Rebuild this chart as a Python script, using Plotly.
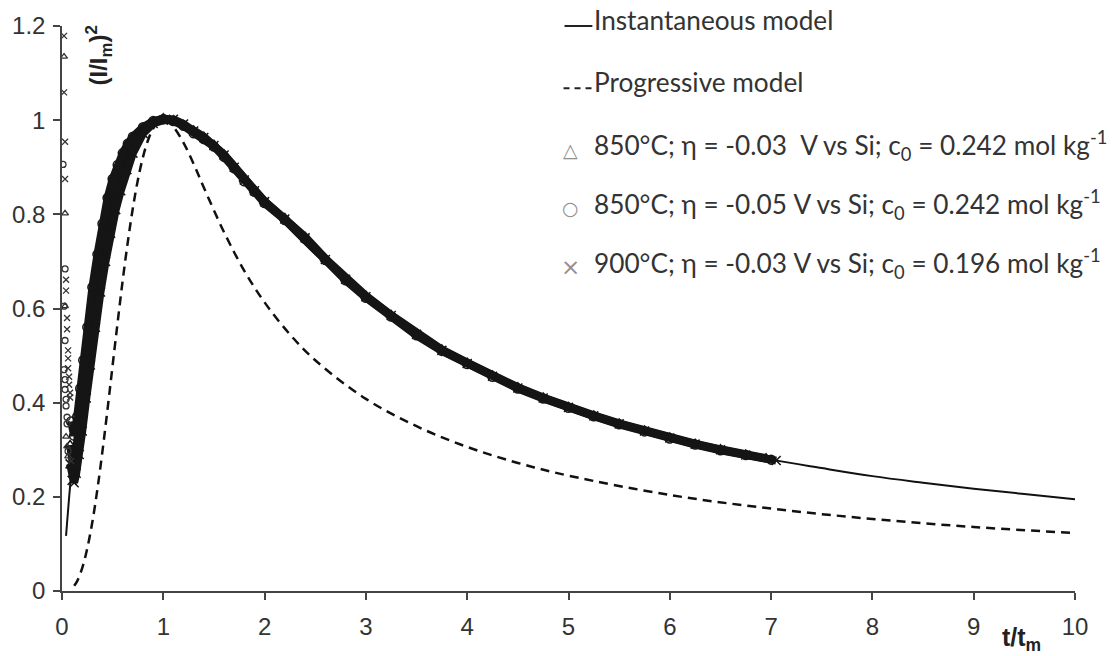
import plotly.graph_objects as go

# ---------------- data ----------------
x_ticks = [0, 1, 2, 3, 4, 5, 6, 7, 8, 9, 10]
y_ticks = [0, 0.2, 0.4, 0.6, 0.8, 1.0, 1.2]
y_tick_text = ["0", "0.2", "0.4", "0.6", "0.8", "1", "1.2"]

# Instantaneous nucleation model
t_inst = [0.04, 0.05, 0.07, 0.1, 0.15, 0.2, 0.3, 0.4, 0.5, 0.6, 0.7, 0.8, 0.9, 1.0,
          1.2, 1.4, 1.6, 1.8, 2.0, 2.5, 3.0, 3.5, 4.0, 4.5, 5.0, 5.5, 6.0, 6.5, 7.0,
          7.5, 8.0, 8.5, 9.0, 9.5, 10.0]
y_inst = [0.117, 0.145, 0.198, 0.272, 0.384, 0.483, 0.642, 0.762, 0.850, 0.913, 0.955,
          0.982, 0.996, 1.000, 0.987, 0.956, 0.916, 0.871, 0.825, 0.716, 0.622, 0.545,
          0.482, 0.431, 0.389, 0.355, 0.325, 0.301, 0.279, 0.261, 0.244, 0.230, 0.217,
          0.206, 0.195]

# Progressive nucleation model
t_prog = [0.12, 0.15, 0.2, 0.25, 0.3, 0.35, 0.4, 0.45, 0.5, 0.55, 0.6, 0.65, 0.7, 0.75,
          0.8, 0.85, 0.9, 0.95, 1.0, 1.05, 1.1, 1.2, 1.3, 1.4, 1.6, 1.8, 2.0, 2.25, 2.5,
          3.0, 3.5, 4.0, 4.5, 5.0, 6.0, 7.0, 8.0, 9.0, 10.0]
y_prog = [0.011, 0.021, 0.049, 0.091, 0.147, 0.217, 0.298, 0.387, 0.480, 0.572, 0.661,
          0.742, 0.814, 0.874, 0.922, 0.958, 0.982, 0.996, 1.000, 0.996, 0.986, 0.952,
          0.907, 0.857, 0.762, 0.680, 0.613, 0.545, 0.490, 0.408, 0.350, 0.306, 0.272,
          0.245, 0.204, 0.175, 0.153, 0.136, 0.123]

# 850 °C, eta = -0.03 V, c0 = 0.242 (triangles)
tA_early = [0.02, 0.03, 0.03, 0.04, 0.05, 0.06]
yA_early = [1.135, 0.802, 0.605, 0.328, 0.307, 0.286]
tA = [0.08, 0.10, 0.12, 0.15, 0.18, 0.21, 0.25, 0.30, 0.35, 0.40, 0.45, 0.50, 0.55, 0.60,
      0.65, 0.70, 0.80, 0.90, 1.00, 1.10, 1.20, 1.30, 1.40, 1.50, 1.60, 1.70, 1.80, 1.90,
      2.00, 2.20, 2.40, 2.60, 2.80, 3.00, 3.25, 3.50, 3.75, 4.00, 4.25, 4.50, 4.75, 5.00,
      5.25, 5.50, 5.75, 6.00, 6.25, 6.50, 6.75, 6.95]
yA = [0.31, 0.27, 0.25, 0.30, 0.37, 0.43, 0.50, 0.585, 0.655, 0.72, 0.785, 0.84, 0.875,
      0.905, 0.935, 0.952, 0.98, 0.997, 1.004, 1.0, 0.99, 0.978, 0.965, 0.948, 0.927,
      0.902, 0.875, 0.852, 0.828, 0.792, 0.752, 0.706, 0.664, 0.627, 0.586, 0.547, 0.513,
      0.485, 0.458, 0.433, 0.411, 0.391, 0.373, 0.356, 0.341, 0.326, 0.313, 0.301, 0.29,
      0.282]

# 850 °C, eta = -0.05 V, c0 = 0.242 (circles)
tB_early = [0.01, 0.03, 0.02, 0.03, 0.02, 0.03, 0.03, 0.04, 0.04, 0.05, 0.05, 0.06]
yB_early = [0.906, 0.684, 0.605, 0.532, 0.470, 0.449, 0.428, 0.407, 0.393, 0.369, 0.355,
            0.297]
tB = [0.09, 0.12, 0.15, 0.18, 0.21, 0.25, 0.30, 0.35, 0.40, 0.45, 0.50, 0.55, 0.60, 0.65,
      0.70, 0.80, 0.90, 1.00, 1.10, 1.20, 1.30, 1.40, 1.50, 1.60, 1.70, 1.80, 1.90, 2.00,
      2.20, 2.40, 2.60, 2.80, 3.00, 3.25, 3.50, 3.75, 4.00, 4.25, 4.50, 4.75, 5.00, 5.25,
      5.50, 5.75, 6.00, 6.25, 6.50, 6.75, 7.00]
yB = [0.36, 0.33, 0.37, 0.43, 0.49, 0.56, 0.645, 0.715, 0.78, 0.835, 0.875, 0.905, 0.93,
      0.95, 0.965, 0.985, 0.998, 1.002, 0.998, 0.988, 0.972, 0.96, 0.944, 0.922, 0.898,
      0.87, 0.848, 0.824, 0.788, 0.748, 0.703, 0.66, 0.623, 0.583, 0.543, 0.51, 0.482,
      0.455, 0.43, 0.409, 0.389, 0.371, 0.354, 0.339, 0.324, 0.311, 0.299, 0.289, 0.279]

# 900 °C, eta = -0.03 V, c0 = 0.196 (crosses)
tC_early = [0.02, 0.02, 0.03, 0.03, 0.04, 0.04, 0.05, 0.05, 0.06, 0.06, 0.06, 0.07, 0.07,
            0.08, 0.08, 0.09]
yC_early = [1.179, 1.059, 0.954, 0.875, 0.661, 0.638, 0.580, 0.556, 0.511, 0.494, 0.473,
            0.455, 0.438, 0.421, 0.411, 0.276]
tC = [0.08, 0.10, 0.12, 0.14, 0.17, 0.20, 0.24, 0.28, 0.33, 0.38, 0.43, 0.48, 0.53, 0.58,
      0.64, 0.70, 0.80, 0.90, 1.00, 1.10, 1.20, 1.30, 1.40, 1.50, 1.60, 1.70, 1.80, 1.90,
      2.00, 2.20, 2.40, 2.60, 2.80, 3.00, 3.25, 3.50, 3.75, 4.00, 4.25, 4.50, 4.75, 5.00,
      5.25, 5.50, 5.75, 6.00, 6.25, 6.50, 6.75, 7.05]
yC = [0.27, 0.235, 0.23, 0.25, 0.29, 0.34, 0.41, 0.48, 0.56, 0.635, 0.70, 0.76, 0.81,
      0.85, 0.895, 0.93, 0.972, 0.993, 1.0, 1.002, 0.992, 0.977, 0.963, 0.946, 0.926,
      0.9, 0.873, 0.85, 0.827, 0.79, 0.75, 0.704, 0.662, 0.625, 0.585, 0.545, 0.511,
      0.483, 0.456, 0.431, 0.41, 0.39, 0.372, 0.355, 0.34, 0.325, 0.312, 0.3, 0.289,
      0.277]

legend_labels = [
    "Instantaneous model",
    "Progressive model",
    "850°C; η = -0.03 \u00a0V vs Si; c<sub>0</sub> = 0.242 mol kg<sup>-1</sup>",
    "850°C; η = -0.05 V vs Si; c<sub>0</sub> = 0.242 mol kg<sup>-1</sup>",
    "900°C; η = -0.03 V vs Si; c<sub>0</sub> = 0.196 mol kg<sup>-1</sup>",
]
symbols = ["triangle-up-open", "circle-open", "x-thin-open"]
legend_glyphs = ["\u25b3", "\u25cb", "\u00d7"]

# ---------------- layout helpers (pixel -> paper) ----------------
W, H = 1112, 656
ML, MR, MT, MB = 57, 37, 20, 65
PW, PH = W - ML - MR, H - MT - MB


def px(xp):
    return (xp - ML) / PW


def py(yp):
    return (H - MB - yp) / PH


# ---------------- figure ----------------
DARK = "#151515"
fig = go.Figure()

fig.add_trace(go.Scatter(x=t_inst, y=y_inst, mode="lines", name=legend_labels[0],
                         line=dict(color="#111111", width=2, shape="spline"),
                         showlegend=False))
fig.add_trace(go.Scatter(x=t_prog, y=y_prog, mode="lines", name=legend_labels[1],
                         line=dict(color="#111111", width=2.5, dash="9px,6px", shape="spline"),
                         showlegend=False))

series = [(tA_early, yA_early, tA, yA), (tB_early, yB_early, tB, yB),
          (tC_early, yC_early, tC, yC)]
for i, (te, ye, tb, yb) in enumerate(series):
    fig.add_trace(go.Scatter(x=tb, y=yb, mode="lines+markers", showlegend=False,
                             name=legend_labels[i + 2],
                             line=dict(color=DARK, width=8),
                             marker=dict(symbol=symbols[i], size=9, color=DARK,
                                         line=dict(width=1.5, color=DARK))))
    fig.add_trace(go.Scatter(x=te, y=ye, mode="markers", showlegend=False,
                             name=legend_labels[i + 2],
                             marker=dict(symbol=symbols[i], size=6, color="#333333",
                                         line=dict(width=1.3, color="#333333"))))

# ---- legend drawn as annotations (text) + short sample lines ----
row_y = [20, 83, 147, 206, 266]
legend_font = dict(family="Lato, sans-serif", size=26.2, color="#333333")
annotations = []
for lab, ry in zip(legend_labels, row_y):
    annotations.append(dict(text=lab, xref="paper", yref="paper", x=px(590), y=py(ry - 6),
                            xanchor="left", yanchor="middle", showarrow=False,
                            font=legend_font))
glyph_sizes = [19, 19, 23]
for g, ry, gs in zip(legend_glyphs, row_y[2:], glyph_sizes):
    annotations.append(dict(text=g, xref="paper", yref="paper", x=px(568), y=py(ry - 2),
                            xanchor="center", yanchor="middle", showarrow=False,
                            font=dict(family="DejaVu Sans, sans-serif", size=gs,
                                      color="#909090")))
shapes = [
    dict(type="line", xref="paper", yref="paper", x0=px(562), x1=px(590),
         y0=py(row_y[0]), y1=py(row_y[0]), line=dict(color="#222222", width=2)),
    dict(type="line", xref="paper", yref="paper", x0=px(561), x1=px(590),
         y0=py(row_y[1]), y1=py(row_y[1]),
         line=dict(color="#222222", width=2, dash="6px,5px")),
]

# axis titles
annotations.append(dict(text="<b>(I/I<sub>m</sub>)<sup>2</sup></b>", xref="paper",
                        yref="paper", x=px(94), y=py(50), xanchor="center",
                        yanchor="middle", textangle=-90, showarrow=False,
                        font=dict(family="Liberation Sans, Arial, sans-serif", size=24,
                                  color="#222222")))
annotations.append(dict(text="<b>t/t<sub>m</sub></b>", xref="paper", yref="paper",
                        x=px(1021), y=py(640), xanchor="center", yanchor="middle",
                        showarrow=False,
                        font=dict(family="Liberation Sans, Arial, sans-serif", size=25,
                                  color="#222222")))

tickfont = dict(family="Liberation Sans, Arial, sans-serif", size=24, color="#333333")
axis_common = dict(showgrid=False, zeroline=False, showline=True, linecolor="#444444",
                   linewidth=1.5, ticks="outside", ticklen=7, tickwidth=1.5,
                   tickcolor="#444444", tickfont=tickfont)

fig.update_layout(
    width=W, height=H,
    margin=dict(l=ML, r=MR, t=MT, b=MB),
    paper_bgcolor="white", plot_bgcolor="white",
    showlegend=False,
    xaxis=dict(range=[0, 10], tickvals=x_ticks, ticklabelstandoff=6, **axis_common),
    yaxis=dict(range=[0, 1.2], tickvals=y_ticks, ticktext=y_tick_text,
               ticklabelstandoff=3, **axis_common),
    annotations=annotations,
    shapes=shapes,
)

fig.write_html("out.html")
